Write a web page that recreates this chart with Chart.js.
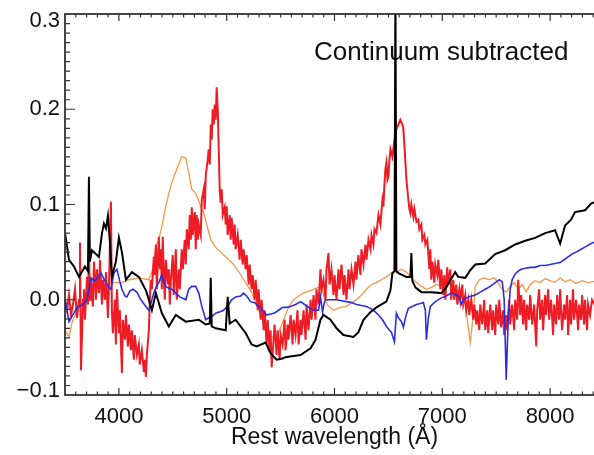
<!DOCTYPE html>
<html>
<head>
<meta charset="utf-8">
<script src="https://cdn.jsdelivr.net/npm/chart.js@4.4.1/dist/chart.umd.min.js"></script>
<style>
  html, body { margin: 0; padding: 0; background: #fff; overflow: hidden; }
  #wrap { width: 610px; height: 455px; }
</style>
</head>
<body>
<div id="wrap"><canvas id="spec" width="610" height="455"></canvas></div>
<script>
// axis labels
const xTicks = [4000, 5000, 6000, 7000, 8000];
const yTicks = [-0.1, 0.0, 0.1, 0.2, 0.3];

// black spectrum
const blackWave = [3500,3537,3583,3630,3685,3713,3722,3731,3750,3815,
  3843,3861,3880,3898,3917,3935,3972,4000,4028,4065,
  4120,4185,4250,4278,4306,4343,4398,4463,4528,4620,
  4741,4806,4843,4852,4861,4898,4991,5009,5028,5083,
  5176,5231,5278,5361,5407,5463,5509,5556,5685,5778,
  5824,5870,5898,5963,6019,6083,6176,6222,6269,6333,
  6389,6481,6519,6537,6556,6565,6574,6593,6667,6704,
  6713,6722,6750,6806,6898,6991,7037,7083,7120,7148,
  7213,7259,7306,7398,7491,7583,7676,7769,7861,7954,
  8046,8093,8139,8194,8231,8324,8380,8444];
const blackFlux = [0.070,0.042,0.035,0.024,0.035,0.030,0.129,0.040,0.052,0.045,
  0.070,0.080,0.075,0.088,0.060,0.024,0.040,0.065,0.050,0.021,
  0.029,0.024,0.010,0.000,-0.011,0.007,-0.014,-0.028,-0.016,-0.023,
  -0.021,-0.026,-0.025,0.023,-0.028,-0.030,-0.032,0.003,-0.025,-0.021,
  -0.035,-0.047,-0.049,-0.045,-0.056,-0.063,-0.062,-0.060,-0.058,-0.051,
  -0.042,-0.021,-0.016,-0.021,-0.030,-0.037,-0.039,-0.034,-0.021,-0.013,
  -0.008,-0.002,0.010,0.028,0.030,0.330,0.030,0.028,0.024,0.024,
  0.049,0.020,0.013,0.008,0.008,0.007,0.013,0.022,0.029,0.024,
  0.023,0.031,0.037,0.038,0.048,0.052,0.058,0.062,0.065,0.070,
  0.073,0.059,0.078,0.084,0.092,0.094,0.101,0.104];

// red spectrum
const redWave = [3500,3519,3537,3556,3574,3593,3611,3630,3639,3648,
  3667,3676,3685,3704,3713,3722,3732,3741,3759,3769,
  3787,3796,3815,3824,3843,3852,3870,3880,3898,3907,
  3926,3935,3944,3963,3972,3982,4000,4009,4028,4037,
  4056,4065,4083,4093,4111,4120,4139,4148,4167,4185,
  4194,4213,4232,4241,4250,4259,4278,4287,4296,4306,
  4324,4333,4343,4352,4370,4380,4389,4398,4407,4417,
  4426,4435,4454,4463,4472,4482,4500,4509,4528,4537,
  4556,4565,4583,4593,4611,4620,4630,4648,4657,4667,
  4676,4685,4704,4713,4722,4732,4741,4759,4769,4787,
  4796,4806,4824,4833,4843,4852,4861,4870,4880,4889,
  4898,4907,4917,4926,4935,4944,4954,4963,4981,4991,
  5000,5009,5028,5037,5046,5065,5074,5083,5102,5120,
  5130,5148,5157,5176,5185,5204,5213,5231,5241,5259,
  5269,5287,5296,5315,5324,5343,5352,5370,5380,5398,
  5407,5417,5435,5444,5463,5472,5491,5500,5519,5537,
  5546,5565,5574,5593,5611,5620,5639,5657,5667,5685,
  5694,5713,5732,5741,5759,5778,5787,5806,5824,5833,
  5852,5870,5880,5898,5917,5926,5944,5954,5972,5991,
  6000,6019,6037,6046,6065,6083,6093,6111,6130,6139,
  6158,6176,6195,6204,6222,6241,6250,6269,6287,6297,
  6315,6334,6343,6361,6371,6389,6408,6426,6445,6454,
  6463,6472,6482,6491,6500,6510,6519,6537,6556,6574,
  6593,6611,6630,6639,6648,6658,6667,6685,6695,6704,
  6713,6732,6741,6760,6778,6787,6806,6815,6834,6843,
  6861,6871,6880,6889,6898,6908,6926,6935,6954,6963,
  6982,6991,7009,7019,7028,7046,7056,7074,7083,7102,
  7111,7130,7139,7158,7167,7185,7195,7213,7222,7241,
  7250,7269,7287,7297,7315,7324,7343,7352,7371,7389,
  7398,7417,7426,7445,7463,7472,7491,7500,7519,7528,
  7546,7565,7574,7593,7602,7620,7630,7648,7667,7676,
  7695,7704,7722,7732,7750,7759,7778,7787,7806,7815,
  7834,7852,7871,7880,7898,7908,7926,7935,7954,7963,
  7982,7991,8009,8028,8037,8056,8065,8083,8093,8111,
  8130,8139,8158,8167,8185,8195,8213,8222,8241,8260,
  8269,8287,8297,8315,8324,8343,8352,8371,8389,8445];
const redFlux = [0.000,-0.011,0.005,-0.016,-0.005,0.011,-0.019,0.000,0.060,-0.074,
  0.000,0.011,-0.021,0.024,-0.005,0.056,0.000,0.021,-0.007,0.040,
  0.000,0.032,0.007,0.042,-0.005,0.021,0.000,0.029,-0.019,0.011,
  0.103,-0.011,-0.035,0.000,-0.047,0.011,-0.035,-0.011,-0.077,-0.021,
  -0.042,-0.016,-0.049,-0.026,-0.053,-0.032,-0.063,-0.037,-0.058,-0.047,
  -0.068,-0.053,-0.076,-0.063,-0.081,-0.058,-0.032,0.000,0.021,0.011,
  0.045,0.026,0.058,0.011,0.066,0.032,0.053,0.011,0.066,0.021,
  0.000,0.042,0.016,0.032,-0.005,0.021,0.047,0.005,0.053,0.000,
  0.032,0.011,0.053,0.032,0.063,0.037,0.074,0.053,0.089,0.063,
  0.097,0.068,0.092,0.053,0.089,0.063,0.079,0.068,0.105,0.116,
  0.095,0.131,0.147,0.158,0.142,0.184,0.168,0.200,0.184,0.205,
  0.189,0.223,0.200,0.158,0.116,0.102,0.116,0.089,0.097,0.079,
  0.098,0.068,0.089,0.063,0.086,0.058,0.079,0.053,0.068,0.042,
  0.063,0.037,0.053,0.032,0.047,0.016,0.037,0.011,0.026,0.000,
  0.021,-0.011,0.011,-0.021,0.000,-0.032,-0.011,-0.047,-0.021,-0.055,
  -0.032,-0.071,-0.042,-0.026,-0.058,-0.032,-0.063,-0.037,-0.047,-0.021,
  -0.053,-0.026,-0.042,-0.016,-0.047,-0.021,-0.037,-0.011,-0.047,-0.021,
  -0.037,-0.011,-0.042,-0.005,-0.032,0.000,-0.021,0.005,-0.021,0.011,
  -0.005,0.032,0.011,0.021,0.000,0.032,0.049,0.016,0.032,0.005,
  0.026,0.000,0.032,0.011,0.037,0.005,0.026,0.000,0.032,0.011,
  0.032,0.016,0.040,0.021,0.047,0.026,0.053,0.037,0.058,0.042,
  0.063,0.053,0.068,0.058,0.074,0.070,0.089,0.079,0.105,0.098,
  0.121,0.137,0.144,0.126,0.129,0.147,0.158,0.150,0.168,0.179,
  0.184,0.189,0.184,0.179,0.163,0.144,0.126,0.105,0.095,0.091,
  0.100,0.087,0.095,0.082,0.084,0.074,0.079,0.063,0.068,0.058,
  0.063,0.047,0.032,0.053,0.021,0.040,0.018,0.037,0.026,0.042,
  0.011,0.032,0.005,0.026,0.000,0.034,0.016,0.032,0.000,0.021,
  0.000,0.016,-0.005,0.011,0.000,0.016,-0.005,0.005,-0.011,0.000,
  -0.016,0.000,-0.021,-0.005,-0.026,-0.011,-0.032,-0.005,-0.026,0.000,
  -0.032,-0.011,-0.035,-0.005,-0.032,-0.011,-0.037,-0.005,-0.026,0.000,
  -0.029,-0.011,-0.037,-0.016,-0.032,0.000,-0.026,-0.005,-0.032,0.000,
  -0.021,0.021,-0.016,0.005,-0.026,0.000,-0.032,-0.005,-0.021,0.005,
  -0.026,-0.005,-0.049,-0.011,0.011,-0.021,0.000,-0.032,0.005,-0.016,
  0.011,-0.021,0.000,-0.037,-0.005,-0.026,0.005,-0.021,0.011,-0.032,
  -0.005,-0.021,0.005,-0.037,0.000,-0.026,0.011,-0.021,0.000,-0.032,
  -0.005,-0.021,0.005,-0.026,0.000,-0.032,-0.005,-0.016,0.000,-0.011];

// orange spectrum
const orangeWave = [3500,3537,3565,3611,3676,3769,3861,3954,4028,4093,
  4185,4278,4315,4343,4370,4398,4435,4463,4491,4537,
  4583,4620,4648,4676,4713,4759,4787,4815,4852,4898,
  4944,5000,5065,5130,5185,5231,5278,5324,5370,5417,
  5463,5500,5528,5574,5620,5667,5713,5759,5806,5852,
  5880,5907,5944,5991,6056,6111,6158,6204,6250,6297,
  6343,6389,6435,6482,6528,6574,6621,6667,6713,6760,
  6806,6852,6898,6945,6991,7037,7083,7130,7176,7204,
  7232,7259,7278,7306,7343,7389,7435,7482,7519,7556,
  7593,7630,7667,7704,7741,7778,7815,7861,7908,7954,
  8000,8046,8093,8139,8185,8241,8297,8352,8445];
const orangeFlux = [-0.032,-0.039,-0.024,-0.011,0.000,0.011,0.016,0.018,0.018,0.021,
  0.023,0.021,0.032,0.056,0.063,0.077,0.098,0.112,0.123,0.137,
  0.150,0.149,0.133,0.116,0.112,0.098,0.091,0.079,0.063,0.055,
  0.050,0.044,0.037,0.026,0.016,0.008,-0.005,-0.019,-0.032,-0.039,
  -0.040,-0.029,-0.021,-0.008,0.000,0.004,0.007,0.009,0.011,0.013,
  0.015,0.000,-0.007,-0.011,-0.008,-0.007,-0.003,0.000,0.005,0.011,
  0.016,0.018,0.021,0.024,0.028,0.029,0.032,0.029,0.023,0.018,
  0.014,0.011,0.013,0.016,0.014,0.016,0.018,0.011,0.002,0.000,
  -0.021,-0.045,-0.026,0.014,0.021,0.023,0.021,0.023,0.018,0.011,
  0.008,0.014,0.018,0.011,0.016,0.008,0.016,0.020,0.018,0.022,
  0.020,0.018,0.023,0.019,0.021,0.017,0.020,0.018,0.020];

// blue spectrum
const blueWave = [3500,3519,3537,3556,3583,3611,3630,3667,3704,3722,
  3741,3769,3787,3815,3833,3861,3880,3907,3926,3954,
  3982,4009,4028,4056,4074,4102,4130,4167,4204,4250,
  4278,4306,4324,4352,4370,4398,4417,4435,4463,4491,
  4528,4565,4602,4620,4648,4676,4713,4741,4769,4806,
  4833,4861,4898,4926,4972,5019,5046,5083,5130,5157,
  5185,5222,5259,5296,5333,5370,5407,5444,5481,5519,
  5556,5593,5639,5685,5722,5759,5806,5852,5870,5889,
  5907,5926,5972,6019,6065,6111,6158,6204,6250,6297,
  6334,6371,6408,6445,6482,6510,6528,6556,6574,6593,
  6621,6639,6658,6685,6722,6760,6797,6824,6843,6852,
  6871,6889,6935,6991,7037,7083,7130,7158,7176,7195,
  7241,7306,7352,7398,7445,7491,7528,7556,7574,7593,
  7611,7630,7648,7676,7704,7732,7769,7815,7861,7908,
  7954,8000,8046,8093,8130,8167,8204,8241,8287,8334,
  8380,8445];
const blueFlux = [0.000,-0.011,-0.023,-0.019,-0.014,-0.008,-0.007,-0.005,0.000,0.011,
  0.023,0.020,0.021,0.025,0.028,0.022,0.018,0.013,0.011,0.028,
  0.032,0.019,0.011,0.004,0.003,0.009,0.011,0.008,0.000,-0.007,
  -0.011,0.000,0.007,0.015,0.018,0.026,0.019,0.014,0.012,0.011,
  0.007,0.003,0.001,0.000,0.011,0.014,0.014,0.007,-0.007,-0.021,
  -0.019,-0.018,-0.014,-0.013,-0.011,-0.005,0.000,0.003,0.004,0.007,
  0.004,-0.002,-0.003,-0.007,-0.011,-0.016,-0.015,-0.014,-0.011,-0.008,
  -0.008,-0.007,-0.005,-0.002,-0.005,-0.008,-0.011,-0.011,0.003,-0.013,
  -0.002,0.000,0.000,0.000,-0.001,-0.002,-0.003,-0.005,-0.006,-0.007,
  -0.009,-0.012,-0.016,-0.021,-0.028,-0.032,-0.034,-0.044,-0.014,-0.019,
  -0.023,-0.029,-0.019,-0.009,-0.007,-0.005,-0.004,-0.003,-0.011,-0.042,
  -0.019,-0.007,-0.002,0.002,0.004,0.007,0.005,0.003,-0.005,0.000,
  0.003,0.005,0.008,0.011,0.014,0.018,0.021,0.019,0.000,-0.084,
  -0.021,0.011,0.021,0.027,0.030,0.032,0.033,0.034,0.034,0.036,
  0.036,0.037,0.038,0.039,0.042,0.045,0.048,0.050,0.053,0.056,
  0.059,0.062];

const fontFamily = '"Liberation Sans", Arial, Helvetica, sans-serif';

function toPoints(wave, flux) {
  return wave.map((w, i) => ({ x: w, y: flux[i] }));
}

// IDL-style box: frame, inward major/minor ticks, y labels, annotation
const idlFrame = {
  id: 'idlFrame',
  beforeDatasetsDraw(chart) {
    const { ctx, scales: { x, y } } = chart;
    ctx.save();
    ctx.font = '26px ' + fontFamily;
    ctx.fillStyle = '#111';
    ctx.textAlign = 'left';
    ctx.textBaseline = 'alphabetic';
    ctx.fillText('Continuum subtracted', x.getPixelForValue(5810), y.getPixelForValue(0.252));
    ctx.restore();
  },
  afterDraw(chart) {
    const { ctx, chartArea: a, scales: { x, y } } = chart;
    ctx.save();
    ctx.strokeStyle = '#333';
    ctx.lineWidth = 1.8;
    ctx.strokeRect(a.left, a.top, a.right - a.left, a.bottom - a.top);

    ctx.lineWidth = 1.2;
    ctx.beginPath();
    for (let w = 3600; w < 8500; w += 100) {
      const px = x.getPixelForValue(w);
      const len = w % 1000 === 0 ? 7 : 3.5;
      ctx.moveTo(px, a.bottom);
      ctx.lineTo(px, a.bottom - len);
      ctx.moveTo(px, a.top);
      ctx.lineTo(px, a.top + len);
    }
    for (let k = -9; k < 30; k++) {
      const py = y.getPixelForValue(k / 100);
      const len = k % 10 === 0 ? 10 : 5;
      ctx.moveTo(a.left, py);
      ctx.lineTo(a.left + len, py);
      ctx.moveTo(a.right, py);
      ctx.lineTo(a.right - len, py);
    }
    ctx.stroke();

    ctx.font = '22px ' + fontFamily;
    ctx.fillStyle = '#111';
    ctx.textAlign = 'right';
    ctx.textBaseline = 'middle';
    yTicks.forEach((v) => {
      const py = Math.min(Math.max(y.getPixelForValue(v), a.top + 7), a.bottom - 4);
      const text = v < 0 ? '\u2212' + Math.abs(v).toFixed(1) : v.toFixed(1);
      ctx.fillText(text, a.left - 5, py);
    });
    ctx.restore();
  }
};

const ctx = document.getElementById('spec').getContext('2d');

const chart = new Chart(ctx, {
  type: 'line',
  data: {
    datasets: [
      { label: 'black', data: toPoints(blackWave, blackFlux), borderColor: '#000000', borderWidth: 2 },
      { label: 'blue', data: toPoints(blueWave, blueFlux), borderColor: '#2b2fe0', borderWidth: 1.6 },
      { label: 'red', data: toPoints(redWave, redFlux), borderColor: '#ee1c24', borderWidth: 2 },
      { label: 'orange', data: toPoints(orangeWave, orangeFlux), borderColor: '#f5964a', borderWidth: 1.3 }
    ]
  },
  options: {
    responsive: false,
    animation: false,
    devicePixelRatio: 1,
    layout: { padding: { left: 0, top: 14, right: 6, bottom: 0 } },
    elements: {
      point: { radius: 0 },
      line: { tension: 0, fill: false }
    },
    plugins: {
      legend: { display: false },
      tooltip: { enabled: false }
    },
    scales: {
      x: {
        type: 'linear',
        min: 3500,
        max: 8500,
        grid: { display: false, drawTicks: false },
        border: { display: false },
        afterBuildTicks: (scale) => { scale.ticks = xTicks.map((v) => ({ value: v })); },
        afterFit: (scale) => { scale.height = 60; },
        ticks: {
          color: '#111',
          padding: 9,
          maxRotation: 0,
          font: { family: fontFamily, size: 22 },
          callback: (v) => String(v)
        },
        title: {
          display: true,
          text: 'Rest wavelength (Å)',
          color: '#111',
          font: { family: fontFamily, size: 23 },
          padding: { top: 0, bottom: 4 }
        }
      },
      y: {
        type: 'linear',
        min: -0.1,
        max: 0.3,
        grid: { display: false, drawTicks: false },
        border: { display: false },
        ticks: { display: false },
        afterFit: (scale) => { scale.width = 65; }
      }
    }
  },
  plugins: [idlFrame]
});
</script>
</body>
</html>
